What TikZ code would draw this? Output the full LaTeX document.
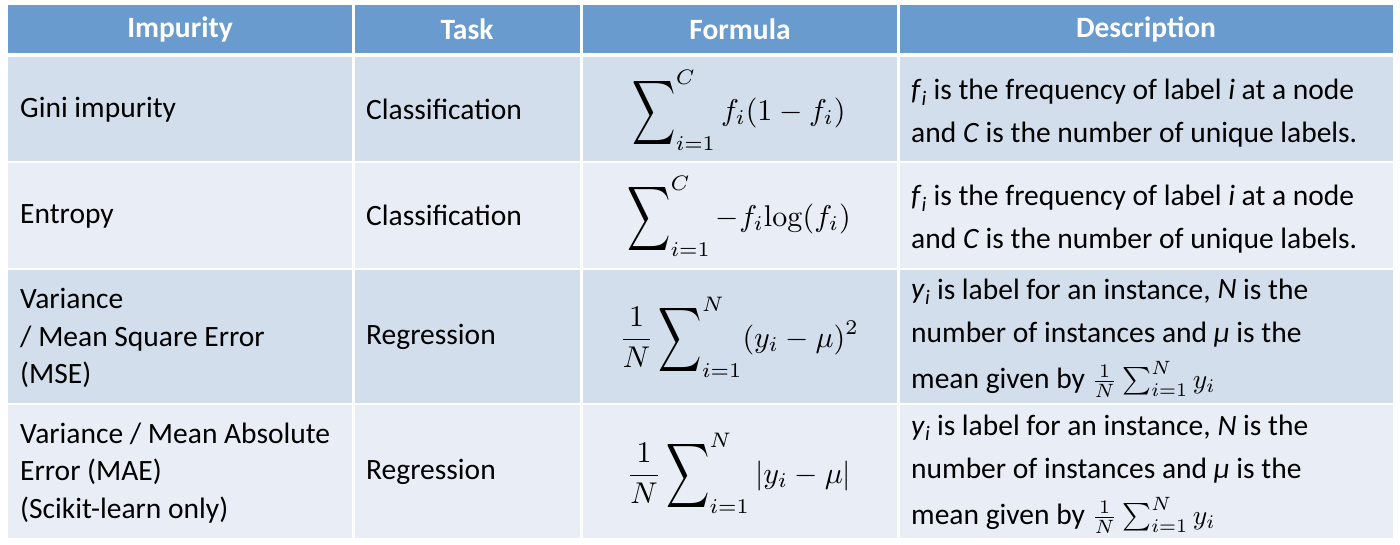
\documentclass[tikz,border=0pt]{standalone}
\usepackage{amsmath}
\usepackage{graphicx}
\usepackage[no-math]{fontspec}
\setmainfont{Carlito}
\definecolor{hdr}{HTML}{6A9BCE}
\definecolor{rowA}{HTML}{D2DEEC}
\definecolor{rowB}{HTML}{E9EEF6}
\newcommand{\BigSum}{\mathop{\vcenter{\hbox{\scalebox{1}[1.5]{$\displaystyle\sum$}}}}\nolimits}
\newcommand{\fI}{\textit{f}\textsubscript{\textit{i}}}
\newcommand{\yI}{\textit{y}\textsubscript{\textit{i}}}
\newcommand{\MathBig}[1]{\scalebox{3}{\fontsize{10}{12}\selectfont$\displaystyle #1$}}
\newcommand{\MathInl}[1]{\scalebox{2.75}{\fontsize{10}{12}\selectfont$#1$}}
\begin{document}
\begin{tikzpicture}[x=1pt,y=-1pt,
  txt/.style={inner sep=0pt, anchor=west, align=left, font=\fontsize{29.5}{37.5}\selectfont, text=black},
  desc/.style={inner sep=0pt, anchor=west, align=left, font=\fontsize{29.5}{43}\selectfont, text=black},
  hd/.style={inner sep=0pt, font=\fontsize{29.5}{36}\selectfont\bfseries, text=white},
  fm/.style={inner sep=0pt, text=black},
  gap/.style={draw=white, line width=2.5pt}]
\useasboundingbox (0,0) rectangle (1400,545);
% row fills
\fill[hdr]  (8,5)   rectangle (1393,54);
\fill[rowA] (8,55)  rectangle (1393,162);
\fill[rowB] (8,162) rectangle (1393,269);
\fill[rowA] (8,269) rectangle (1393,404);
\fill[rowB] (8,404) rectangle (1393,538);
% white separators
\draw[gap, line width=3.5pt] (8,55) -- (1393,55);
\draw[gap] (8,162) -- (1393,162);
\draw[gap] (8,269) -- (1393,269);
\draw[gap] (8,404) -- (1393,404);
\draw[gap] (353.5,5) -- (353.5,538);
\draw[gap] (581.5,5) -- (581.5,538);
\draw[gap] (898.5,5) -- (898.5,538);
% header
\node[hd] (h1) at (180,29) {Impurity};
\node[hd] (h2) at (467,29) {Task};
\node[hd] (h3) at (740,29) {Formula};
\node[hd] (h4) at (1146,29) {Description};
% column 1
\node[txt] (a1) at (20,110) {Gini impurity};
\node[txt] (a2) at (20,216.5) {Entropy};
\node[txt] (a3) at (20,338) {Variance\\/ Mean Square Error\\(MSE)};
\node[txt] (a4) at (20,473) {Variance / Mean Absolute\\Error (MAE)\\(Scikit-learn only)};
% column 2
\node[txt] (b1) at (366,109) {Classification};
\node[txt] (b2) at (366,215.5) {Classification};
\node[txt] (b3) at (366,337) {Regression};
\node[txt] (b4) at (366,472) {Regression};
% column 3
\node[fm] (c1) at (739,110) {\MathBig{\BigSum_{i=1}^{C} f_i(1-f_i)}};
\node[fm] (c2) at (739,216) {\MathBig{\BigSum_{i=1}^{C} -f_i\mathrm{log}(f_i)}};
\node[fm] (c3) at (739,337) {\MathBig{\frac{1}{N}\BigSum_{i=1}^{N}(y_i-\mu)^2}};
\node[fm] (c4) at (739,473) {\MathBig{\frac{1}{N}\BigSum_{i=1}^{N}|y_i-\mu|}};
% column 4
\node[desc] (d1) at (911,113) {\fI{} is the frequency of label \textit{i} at a node\\and \textit{C} is the number of unique labels.};
\node[desc] (d2) at (911,219) {\fI{} is the frequency of label \textit{i} at a node\\and \textit{C} is the number of unique labels.};
\node[desc] (d3) at (911,338) {\yI{} is label for an instance, \textit{N} is the\\number of instances and \textit{μ} is the\\[3pt]mean given by \MathInl{\frac{1}{N}\sum_{i=1}^{N} y_i}};
\node[desc] (d4) at (911,474) {\yI{} is label for an instance, \textit{N} is the\\number of instances and \textit{μ} is the\\[3pt]mean given by \MathInl{\frac{1}{N}\sum_{i=1}^{N} y_i}};
\end{tikzpicture}
\end{document}
